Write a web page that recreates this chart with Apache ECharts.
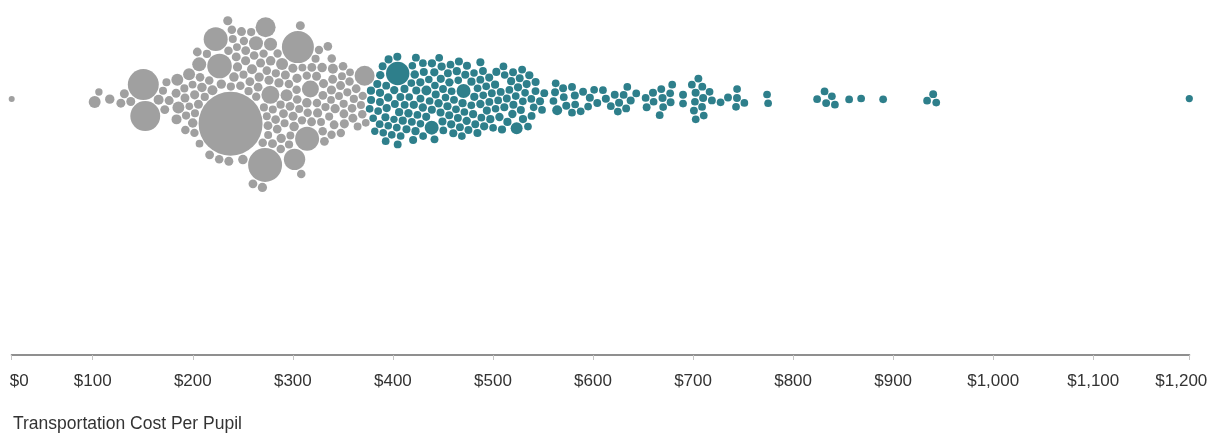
<!DOCTYPE html>
<html><head><meta charset="utf-8">
<script src="https://cdn.jsdelivr.net/npm/echarts@6/dist/echarts.min.js"></script>
<style>html,body{margin:0;padding:0;background:#fff}#c{width:1211px;height:433px}</style>
</head><body><div id="c"></div>
<script>
// ---- DATA ----
const costPerPupil = [
  19,102,106,117,129,133,137,151,153,165,166,171,174,175,184,186,187,187,193,
  201,210,220,228,229,240,257,262,272,273,274,275,278,290,292,301,305,311,313,334,372,
  196,198,199,200,202,203,205,206,207,208,209,211,212,214,215,217,
  219,222,225,230,234,236,238,241,244,246,
  247,248,249,250,251,253,254,255,256,259,261,264,266,
  267,268,269,270,271,273,276,276,277,278,279,280,282,283,284,285,287,
  287,288,289,291,293,294,295,296,297,298,299,300,303,304,306,307,308,310,312,315,
  316,317,318,320,321,322,323,325,326,327,328,329,330,332,333,335,336,337,338,339,341,342,343,345,346,
  347,348,350,351,353,354,356,357,359,360,362,364,366,368,370,373,
  232,243,252,258,263,265,281,286,292,302,309,314,
  380,381,382,383,385,386,387,387,388,389,389,390,391,392,393,394,395,396,397,398,399,400,401,402,403,404,405,406,
  406,435,437,469,524,
  408,409,411,412,413,414,415,417,417,418,419,420,421,422,423,424,425,426,427,428,429,430,431,432,433,434,436,437,
  438,439,440,441,442,443,444,445,446,447,448,449,450,451,452,453,454,455,456,457,458,459,460,461,462,463,464,465,466,
  467,468,470,471,472,474,475,476,477,478,479,480,481,482,483,484,485,486,487,488,489,490,491,493,494,495,496,497,498,499,501,502,503,505,506,
  507,508,510,511,513,514,516,517,518,519,520,521,522,523,526,527,528,529,530,531,533,534,536,537,538,540,541,543,546,548,550,
  561,562,563,564,570,571,574,579,579,582,582,
  587,590,595,597,602,604,609,613,618,
  623,625,626,630,633,634,637,643,
  653,654,660,660,667,668,670,671,676,677,679,
  690,690,
  700,702,703,703,703,705,708,710,710,710,714,719,
  727,735,743,744,744,751,
  774,775,
  824,832,834,838,841,
  856,868,890,
  934,940,943,
  1196
];
const enrollment = [
  280,1100,420,680,620,620,620,7400,6900,770,500,620,500,620,770,1100,1100,620,500,
  1110,1510,770,4440,4670,31600,770,1510,8900,494,3090,1300,2500,1110,1110,3530,7900,4440,2230,770,3090,
  560,480,620,520,700,450,600,540,650,500,580,460,620,700,520,560,
  600,520,680,560,620,500,640,560,700,520,
  560,620,480,660,540,600,500,640,580,520,700,560,600,
  540,600,660,500,620,560,700,480,600,540,640,520,580,660,500,620,560,
  600,520,660,560,480,620,700,540,600,520,640,580,500,660,560,620,540,700,480,600,
  560,620,500,660,540,600,480,640,560,700,520,600,580,460,640,540,620,500,660,560,600,480,620,540,580,
  520,600,480,640,560,500,620,460,580,520,600,480,540,500,560,460,
  560,620,520,600,540,660,580,500,620,560,540,600,
  460,500,440,520,480,460,540,420,500,460,520,480,440,500,560,460,480,520,440,500,460,540,480,420,500,460,520,480,
  4220,770,1510,1510,1110,
  480,520,460,500,440,540,480,500,460,520,480,440,500,560,460,520,480,440,500,520,460,500,480,540,460,500,440,520,
  500,460,520,480,440,500,540,460,500,480,520,460,500,440,520,480,500,460,540,500,460,520,480,440,500,520,460,480,500,
  480,520,460,500,540,460,500,480,520,460,500,440,480,520,460,500,480,540,460,500,520,480,440,500,460,520,480,500,460,520,480,440,500,540,460,
  480,520,460,500,480,440,520,500,460,540,480,500,460,520,480,460,500,480,520,440,500,460,520,480,460,500,440,480,500,460,480,
  460,480,460,770,480,460,500,460,480,460,500,
  460,480,460,500,460,480,460,500,460,
  480,460,500,460,480,460,500,460,
  460,480,460,500,460,480,460,500,460,480,460,
  460,480,
  460,480,460,500,460,480,460,500,460,480,460,480,
  460,480,460,480,460,460,
  460,460,
  460,460,480,460,460,
  460,460,460,
  460,480,460,
  400
];
const tickValues = [100,200,300,400,500,600,700,800,900,1000,1100];
const tickLabels = ['$0','$100','$200','$300','$400','$500','$600','$700','$800','$900','$1,000','$1,100','$1,200'];
const axisTitle = 'Transportation Cost Per Pupil';
const THRESHOLD = 377;

// ---- layout (force-directed beeswarm, d3-style) ----
const FONT = "'Liberation Sans', Arial, sans-serif";
const W = 1211, H = 433;
const GRID = {left: 11.7, right: 21.7, top: 0, bottom: 78};
const CENTER_Y = 99;
const xMin = Math.min(...costPerPupil), xMax = Math.max(...costPerPupil);
const plotW = W - GRID.left - GRID.right, plotH = H - GRID.top - GRID.bottom;
const kx = plotW / (xMax - xMin);
const radius = s => 0.18 * Math.sqrt(s);

const nodes = costPerPupil.map((c, i) => {
  const tx = (c - xMin) * kx;
  return {c, r: radius(enrollment[i] || 480), tx, x: tx, y: 0, vx: 0, vy: 0};
});
nodes.sort((a, b) => (a.tx - b.tx) || (b.r - a.r));
nodes.forEach((n, i) => { n.y = 3 * Math.sqrt((i % 40) + 0.5) * Math.sin(i * 2.39996); });
const PAD = 1.1;
const maxR = Math.max(...nodes.map(n => n.r));
const N = nodes.length;

function collide(strength) {
  const order = nodes.slice().sort((a, b) => (a.x + a.vx) - (b.x + b.vx));
  for (let ii = 0; ii < N; ii++) {
    const a = order[ii];
    const xi = a.x + a.vx, yi = a.y + a.vy, ri = a.r + PAD / 2, ri2 = ri * ri;
    for (let jj = ii + 1; jj < N; jj++) {
      const b = order[jj];
      const rj = b.r + PAD / 2;
      let x = xi - (b.x + b.vx);
      if (-x > ri + maxR + PAD) break;
      let y = yi - (b.y + b.vy);
      let l = x * x + y * y;
      const R = ri + rj;
      if (l < R * R) {
        if (x === 0) { x = ((ii + jj) % 2 ? 1e-3 : -1e-3); l += x * x; }
        if (y === 0) { y = ((ii * 7 + jj) % 2 ? 1e-3 : -1e-3); l += y * y; }
        l = Math.sqrt(l);
        l = (R - l) / l * strength;
        x *= l; y *= l;
        const w = (rj * rj) / (ri2 + rj * rj);
        a.vx += x * w; a.vy += y * w;
        b.vx -= x * (1 - w); b.vy -= y * (1 - w);
      }
    }
  }
}
let alpha = 1; const alphaDecay = 1 - Math.pow(0.001, 1 / 300);
const SX = 1.0, SY = 0.05;
for (let t = 0; t < 300; t++) {
  alpha -= alpha * alphaDecay;
  for (const n of nodes) { n.vx += (n.tx - n.x) * SX * alpha; n.vy += -n.y * SY * alpha; }
  collide(0.8);
  collide(0.8);
  for (const n of nodes) { n.vx *= 0.6; n.vy *= 0.6; n.x += n.vx; n.y += n.vy; }
}

const seriesData = nodes.map(n => [xMin + n.x / kx, plotH - (CENTER_Y - GRID.top) - n.y, n.r, n.c]);
const tickPos = [xMin, ...tickValues, xMax];

const chart = echarts.init(document.getElementById('c'));
chart.setOption({
  animation: false,
  grid: {left: GRID.left, right: GRID.right, top: GRID.top, bottom: GRID.bottom},
  title: {text: axisTitle, left: 13, top: 415, padding: 0,
    textStyle: {fontSize: 17.5, fontWeight: 'normal', color: '#333', fontFamily: FONT}},
  xAxis: {
    type: 'value', min: xMin, max: xMax, splitLine: {show: false},
    axisLine: {show: true, lineStyle: {color: '#8f8f8f', width: 2}},
    axisTick: {show: true, customValues: tickPos, length: 5, lineStyle: {color: '#c4c4c4', width: 1}},
    axisLabel: {
      customValues: tickPos, showMinLabel: true, showMaxLabel: true,
      margin: 18, fontSize: 17, color: '#333', fontFamily: FONT,
      formatter: v => {
        const i = tickPos.indexOf(v);
        if (i === 0) return '{first|' + tickLabels[0] + '}';
        if (i === tickPos.length - 1) return '{last|' + tickLabels[i] + '}';
        return i >= 0 ? tickLabels[i] : '';
      },
      rich: {
        first: {padding: [0, 0, 0, 15], fontSize: 17, color: '#333', fontFamily: FONT},
        last: {padding: [0, 16, 0, 0], fontSize: 17, color: '#333', fontFamily: FONT}
      }
    }
  },
  yAxis: {type: 'value', min: 0, max: plotH, show: false},
  series: [{
    type: 'scatter', silent: true, data: seriesData,
    symbolSize: v => v[2] * 2,
    itemStyle: {opacity: 1, color: p => p.value[3] < THRESHOLD ? '#a0a0a0' : '#2e7f8b'}
  }]
});
</script></body></html>
